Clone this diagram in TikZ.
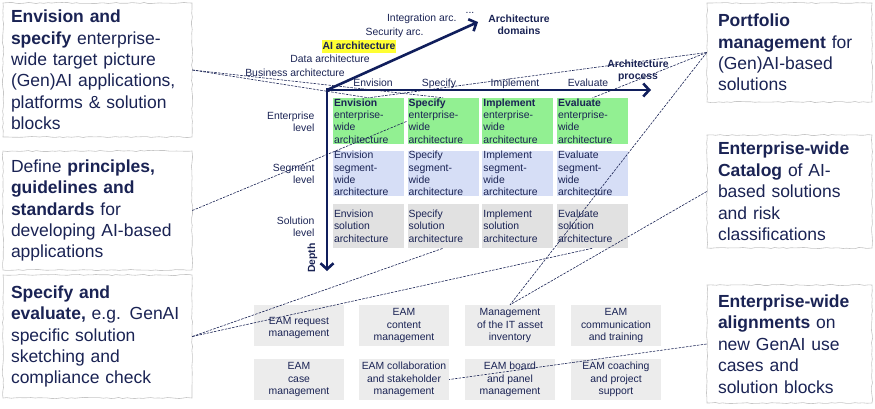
\documentclass[tikz,border=0pt]{standalone}
\usepackage{fontspec}
\setmainfont{Liberation Sans}
\usetikzlibrary{arrows.meta,decorations.pathmorphing}

\definecolor{inkblue}{RGB}{26,35,84}
\definecolor{axisblue}{RGB}{16,30,92}
\definecolor{entgreen}{RGB}{146,240,146}
\definecolor{segblue}{RGB}{214,222,246}
\definecolor{solgray}{RGB}{225,225,225}
\definecolor{eamgray}{RGB}{236,236,236}
\definecolor{markyellow}{RGB}{255,255,51}

\newcommand{\smalltxt}{\fontsize{10.4}{12.3}\selectfont}
\newcommand{\bigtxt}{\fontsize{17.5}{21.4}\selectfont}

\begin{document}
\begin{tikzpicture}[x=1pt,y=-1pt,text=inkblue]
        \tikzstyle{notestyle}=[draw=gray!45, line width=0.6pt, fill=white, decorate,
          decoration={random steps, segment length=4pt, amplitude=0.6pt},
          align=left, inner ysep=0pt, font=\bigtxt]
        \tikzstyle{cellstyle}=[minimum width=71pt, text width=69pt, inner xsep=1pt,
          inner ysep=0pt, align=left, font=\smalltxt]
        \tikzstyle{eamstyle}=[fill=eamgray, minimum width=90pt, minimum height=41pt,
          inner sep=0pt, align=center, font=\smalltxt]
        \tikzstyle{axisstyle}=[draw=axisblue, line width=2.6pt,
          -{Straight Barb[length=6pt, width=13pt]}]
        \tikzstyle{dashstyle}=[draw=inkblue, line width=0.6pt, dash pattern=on 2.5pt off 1.2pt]
        \useasboundingbox (0,0) rectangle (875,408);

        % Random seed for the sketchy borders
        \pgfmathsetseed{11};

        % the three rows of cells
        \foreach \name [count=\i] in {Envision,Specify,Implement,Evaluate}
        {
          \pgfmathsetmacro{\cx}{368.5+74.7*(\i-1)}
          \node[cellstyle, fill=entgreen, minimum height=46pt] (ent\i) at (\cx,121)
            {\textbf{\name}\\enterprise-\\wide\\architecture};
          \node[cellstyle, fill=segblue, minimum height=45pt] (seg\i) at (\cx,173.5)
            {\name\\segment-\\wide\\architecture};
          \node[cellstyle, fill=solgray, minimum height=44pt] (sol\i) at (\cx,226)
            {\name\\solution\\architecture};
        };

        % level labels left of the rows
        \node[anchor=east, align=right, font=\smalltxt] (entlabel) at (318,122) {Enterprise\\level};
        \node[anchor=east, align=right, font=\smalltxt] (seglabel) at (318,174) {Segment\\level};
        \node[anchor=east, align=right, font=\smalltxt] (sollabel) at (318,226.5) {Solution\\level};

        % process steps above the horizontal axis
        \foreach \name/\hx in {Envision/373,Specify/439,Implement/515,Evaluate/588}
          \node[anchor=base, font=\smalltxt] at (\hx,86) {\name};

        % the three axes
        \coordinate (origin) at (327,90);
        \coordinate (domend) at (478,22);
        \coordinate (procend) at (651,90);
        \coordinate (depthend) at (327,271);
        \draw[axisstyle] (327,88) -- (depthend);
        \draw[axisstyle] (origin) -- (procend);
        \draw[axisstyle] (origin) -- (domend);

        % domains along the diagonal axis
        \node[anchor=base east, font=\smalltxt] (integration) at (460,21) {Integration arc.};
        \node[anchor=base, font=\smalltxt] (moredomains) at (470,13.5) {...};
        \node[anchor=base east, font=\smalltxt] (security) at (427,35) {Security arc.};
        \node[anchor=base, fill=markyellow, inner sep=1pt, text height=8pt, text depth=2.5pt,
          font=\smalltxt\bfseries] (aiarch) at (359,49) {AI architecture};
        \node[anchor=base, font=\smalltxt] (dataarch) at (330,62) {Data architecture};
        \node[anchor=base, font=\smalltxt] (busarch) at (295,76) {Business architecture};

        % axis titles
        \node[align=center, font=\smalltxt\bfseries] (domtitle) at (519,25) {Architecture\\domains};
        \node[align=center, font=\smalltxt\bfseries] (proctitle) at (638,71) {Architecture\\process};
        \node[rotate=90, font=\smalltxt\bfseries] (depthtitle) at (312.5,258) {Depth};

        % EAM service boxes
        \node[eamstyle] (eam1) at (299,325.5) {\mbox{}\\EAM request\\management};
        \node[eamstyle] (eam2) at (404,325.5) {EAM\\content\\management};
        \node[eamstyle] (eam3) at (510,325.5) {Management\\of the IT asset\\inventory};
        \node[eamstyle] (eam4) at (616,325.5) {EAM\\communication\\and training};
        \node[eamstyle] (eam5) at (299,379.5) {EAM\\case\\management};
        \node[eamstyle] (eam6) at (404,379.5) {EAM collaboration\\and stakeholder\\management};
        \node[eamstyle] (eam7) at (510,379.5) {EAM board\\and panel\\management};
        \node[eamstyle] (eam8) at (616,379.5) {EAM coaching\\and project\\support};

        % callouts on the left
        \node[notestyle, text width=173pt, inner xsep=8pt, minimum height=134pt] (envbox) at (97.5,70)
          {\textbf{Envision and}\\\textbf{specify} enterprise-\\wide target picture\\(Gen)AI applications,\\platforms \& solution\\blocks};
        \node[notestyle, text width=173pt, inner xsep=8pt, minimum height=119pt] (defbox) at (97.5,210.5)
          {Define \textbf{principles,}\\\textbf{guidelines and}\\\textbf{standards} for\\developing AI-based\\applications};
        \node[notestyle, text width=173pt, inner xsep=8pt, minimum height=123pt] (specbox) at (97.5,336.5)
          {\textbf{Specify and}\\\textbf{evaluate,} e.g. GenAI\\specific solution\\sketching and\\compliance check};

        % callouts on the right
        \node[notestyle, text width=143pt, inner xsep=11pt, minimum height=99pt] (portbox) at (789.5,52.5)
          {\textbf{Portfolio}\\\textbf{management} for\\(Gen)AI-based\\solutions};
        \node[notestyle, text width=143pt, inner xsep=11pt, minimum height=113pt] (catbox) at (789.5,191.5)
          {\textbf{Enterprise-wide}\\\textbf{Catalog} of AI-\\based solutions\\and risk\\classifications};
        \node[notestyle, text width=143pt, inner xsep=11pt, minimum height=118pt] (alignbox) at (789.5,344)
          {\textbf{Enterprise-wide}\\\textbf{alignments} on\\new GenAI use\\cases and\\solution blocks};

        % draw the dashed links from the callouts
        \draw[dashstyle] (envbox.east) -- (ent1.north);
        \draw[dashstyle] (envbox.east) -- (ent2.north);
        \draw[dashstyle] (defbox.east) -- (ent2.west);
        \draw[dashstyle] (specbox.east) -- (sol2.south);
        \draw[dashstyle] (specbox.east) -- (sol4.south);
        \draw[dashstyle] (portbox.west) -- (ent1.north);
        \draw[dashstyle] (portbox.west) -- (ent4.north);
        \draw[dashstyle] (portbox.west) -- (eam3.north);
        \draw[dashstyle] (catbox.west) -- (eam3.north);
        \draw[dashstyle] (alignbox.west) -- (eam6.east);
    \end{tikzpicture}
\end{document}
